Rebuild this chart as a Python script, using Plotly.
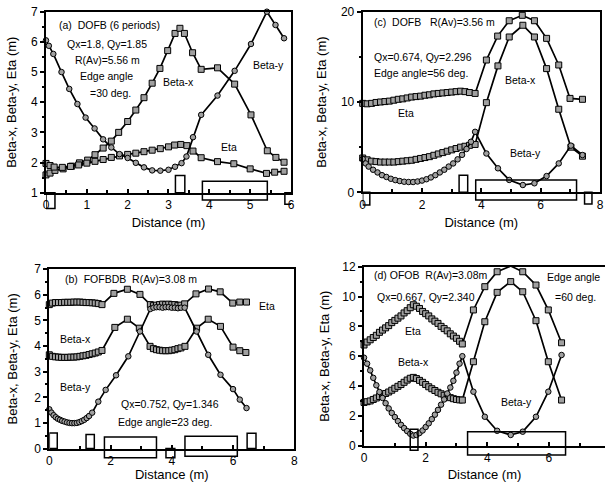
import plotly.graph_objects as go

FONT = "Liberation Sans, Arial, Helvetica, sans-serif"

# ---------------- Panel (a) DOFB (6 periods) ----------------
a_x_betax = [0, 0.1, 0.22, 0.42, 0.63, 0.82, 1.02, 1.2, 1.4, 1.6, 1.78, 2.0, 2.2, 2.4,
             2.6, 2.79, 2.98, 3.16, 3.28, 3.39, 3.59, 3.8, 4.2, 4.62, 5.02, 5.42, 5.63, 5.83]
a_betax = [1.59, 1.65, 1.74, 1.79, 1.88, 1.99, 2.08, 2.26, 2.48, 2.71, 3.0, 3.36, 3.74, 4.15,
           4.63, 5.12, 5.71, 6.28, 6.45, 6.28, 5.64, 5.09, 5.14, 4.6, 3.58, 2.39, 2.17, 2.01]
a_x_eta = [0, 0.1, 0.2, 0.4, 0.6, 0.8, 1.0, 1.2, 1.4, 1.6, 1.8, 2.0, 2.2, 2.4,
           2.6, 2.8, 3.0, 3.15, 3.3, 3.45, 3.6, 3.8, 4.2, 4.6, 5.0, 5.4, 5.6, 5.83]
a_eta = [1.97, 1.9, 1.85, 1.84, 1.87, 1.92, 1.98, 2.04, 2.1, 2.17, 2.22, 2.27, 2.31, 2.36,
         2.41, 2.46, 2.52, 2.58, 2.6, 2.56, 2.38, 2.16, 2.03, 1.96, 1.79, 1.64, 1.68, 1.71]
a_x_betay = [0, 0.07, 0.18, 0.38, 0.57, 0.77, 0.97, 1.19, 1.4, 1.6, 1.8, 2.0, 2.2, 2.4,
             2.6, 2.8, 3.0, 3.16, 3.32, 3.44, 3.6, 3.8, 4.2, 4.62, 5.02, 5.41, 5.62, 5.83]
a_betay = [6.05, 5.87, 5.6, 5.0, 4.44, 3.94, 3.49, 3.13, 2.77, 2.5, 2.28, 2.15, 1.99, 1.84,
           1.74, 1.73, 1.76, 1.86, 1.98, 2.2, 2.84, 3.58, 4.22, 5.04, 5.93, 7.0, 6.56, 6.12]
# lattice elements: start, end, bottom, top (m)
a_el_start = [0.0, 3.17, 3.83, 5.85]
a_el_end = [0.22, 3.4, 5.42, 6.06]
a_el_low = [0.48, 1.0, 0.76, 0.62]
a_el_high = [1.0, 1.57, 1.38, 1.0]

# ---------------- Panel (c) DOFB R(Av)=3.56 m ----------------
c_x_eta = [0, 0.15, 0.3, 0.45, 0.6, 0.75, 0.9, 1.05, 1.2, 1.35, 1.5, 1.65, 1.8, 1.95, 2.1,
           2.25, 2.4, 2.55, 2.7, 2.85, 3.0, 3.15, 3.3, 3.45, 3.6, 3.79,
           4.17, 4.55, 4.94, 5.38, 5.79, 6.2, 6.61, 6.99, 7.41]
c_eta = [9.85, 9.8, 9.85, 9.95, 10.0, 10.05, 10.1, 10.2, 10.3, 10.35, 10.45, 10.55, 10.6, 10.65, 10.75,
         10.8, 10.9, 10.95, 11.0, 11.05, 11.1, 11.15, 11.2, 11.15, 11.05, 10.95,
         14.65, 17.3, 19.0, 19.6, 19.0, 17.05, 14.1, 10.4, 10.3]
c_x_betax = [0, 0.15, 0.3, 0.45, 0.6, 0.75, 0.9, 1.05, 1.2, 1.35, 1.5, 1.65, 1.8, 1.95, 2.1,
             2.25, 2.4, 2.55, 2.7, 2.85, 3.0, 3.15, 3.3, 3.45, 3.6, 3.79,
             4.17, 4.56, 4.94, 5.4, 5.79, 6.2, 6.61, 7.02, 7.41]
c_betax = [3.8, 3.6, 3.45, 3.4, 3.35, 3.35, 3.35, 3.35, 3.4, 3.45, 3.5, 3.55, 3.65, 3.75, 3.85,
           3.95, 4.1, 4.25, 4.4, 4.55, 4.7, 4.85, 5.0, 5.1, 5.2, 5.3,
           9.93, 14.0, 17.2, 18.5, 17.2, 13.7, 9.2, 5.0, 4.0]
c_x_betay = [0, 0.1, 0.2, 0.35, 0.5, 0.65, 0.8, 0.95, 1.1, 1.25, 1.4, 1.55, 1.7, 1.85, 2.0,
             2.15, 2.3, 2.45, 2.6, 2.75, 2.9, 3.05, 3.2, 3.35, 3.5, 3.65, 3.79,
             4.17, 4.56, 4.94, 5.4, 5.79, 6.2, 6.61, 7.02, 7.41]
c_betay = [3.7, 3.2, 2.85, 2.5, 2.2, 1.9, 1.7, 1.5, 1.35, 1.25, 1.17, 1.14, 1.14, 1.2, 1.3,
           1.45, 1.65, 1.9, 2.2, 2.5, 2.85, 3.2, 3.65, 4.15, 4.8, 5.6, 6.7,
           4.3, 2.66, 1.37, 0.81, 1.0, 1.8, 3.2, 5.17, 4.13]
c_el_start = [0.0, 3.25, 3.81, 7.48]
c_el_end = [0.24, 3.54, 7.21, 7.73]
c_el_low = [-1.4, 0.0, -0.85, -1.3]
c_el_high = [0.0, 1.9, 1.37, 0.0]

# ---------------- Panel (b) FOFBDB R(Av)=3.08 m ----------------
b_x_eta = [0, 0.1, 0.2, 0.3, 0.4, 0.5, 0.6, 0.7, 0.8, 0.9, 1.0, 1.1, 1.2, 1.3, 1.4, 1.5, 1.6,
           1.72, 2.11, 2.55, 2.96, 3.3, 3.4, 3.5, 3.6, 3.7, 3.8, 3.9, 4.0, 4.1, 4.2, 4.3,
           4.42, 4.79, 5.2, 5.58, 5.99, 6.22, 6.44]
b_eta = [5.62, 5.68, 5.7, 5.7, 5.7, 5.71, 5.71, 5.71, 5.72, 5.72, 5.72, 5.71, 5.7, 5.7, 5.69, 5.68, 5.66,
         5.62, 6.06, 6.22, 6.02, 5.62, 5.58, 5.6, 5.62, 5.64, 5.62, 5.64, 5.62, 5.62, 5.58, 5.6,
         5.65, 6.04, 6.23, 6.12, 5.68, 5.72, 5.72]
b_x_betax = [0, 0.1, 0.2, 0.3, 0.4, 0.5, 0.6, 0.7, 0.8, 0.9, 1.0, 1.1, 1.2, 1.3, 1.4, 1.5, 1.6,
             1.72, 2.14, 2.55, 2.94, 3.29, 3.4, 3.5, 3.6, 3.7, 3.8, 3.9, 4.0, 4.1, 4.2, 4.3,
             4.43, 4.81, 5.19, 5.59, 6.0, 6.22, 6.42]
b_betax = [3.66, 3.6, 3.58, 3.57, 3.56, 3.56, 3.56, 3.57, 3.57, 3.58, 3.6, 3.62, 3.64, 3.67, 3.7, 3.73, 3.77,
           3.83, 4.73, 5.05, 4.7, 3.99, 3.9, 3.86, 3.84, 3.82, 3.82, 3.82, 3.84, 3.86, 3.9, 3.93,
           3.99, 4.7, 5.05, 4.77, 3.96, 3.82, 3.75]
b_x_betay = [0, 0.07, 0.14, 0.21, 0.28, 0.35, 0.42, 0.5, 0.58, 0.66, 0.74, 0.82, 0.9, 0.98, 1.06,
             1.14, 1.22, 1.3, 1.4, 1.6, 1.84, 2.18, 2.58, 2.96, 3.3, 3.4, 3.5, 3.6, 3.7, 3.8, 3.9,
             4.0, 4.1, 4.2, 4.3, 4.42, 4.81, 5.19, 5.59, 6.0, 6.22, 6.44]
b_betay = [1.53, 1.4, 1.3, 1.22, 1.16, 1.12, 1.08, 1.05, 1.02, 1.0, 0.99, 0.99, 1.0, 1.03, 1.07,
           1.12, 1.19, 1.27, 1.4, 1.83, 2.29, 2.86, 3.6, 4.57, 5.45, 5.5, 5.52, 5.52, 5.5, 5.52, 5.52,
           5.5, 5.5, 5.48, 5.5, 5.5, 4.57, 3.66, 2.88, 2.32, 1.91, 1.58]
b_el_start = [0.0, 1.2, 1.8, 3.81, 4.43, 6.46]
b_el_end = [0.26, 1.47, 3.5, 4.1, 6.14, 6.75]
b_el_low = [0.0, 0.0, -0.36, -0.36, -0.3, 0.0]
b_el_high = [0.61, 0.55, 0.45, 0.0, 0.48, 0.6]

# ---------------- Panel (d) OFOB R(Av)=3.08m ----------------
d_x = [0, 0.1, 0.2, 0.3, 0.4, 0.5, 0.6, 0.7, 0.8, 0.9, 1.0, 1.1, 1.2, 1.3, 1.4, 1.5, 1.6,
       1.7, 1.8, 1.9, 2.0, 2.1, 2.2, 2.3, 2.4, 2.5, 2.6, 2.7, 2.8, 2.9, 3.0, 3.1, 3.19,
       3.55, 3.92, 4.32, 4.76, 5.15, 5.58, 5.98, 6.41]
d_eta = [6.75, 6.95, 7.1, 7.25, 7.4, 7.6, 7.75, 7.9, 8.05, 8.25, 8.4, 8.55, 8.7, 8.9, 9.05, 9.25, 9.45,
         9.35, 9.2, 9.0, 8.85, 8.7, 8.5, 8.35, 8.2, 8.0, 7.85, 7.7, 7.5, 7.35, 7.2, 7.0, 6.82,
         9.1, 10.66, 11.66, 12.04, 11.66, 10.77, 9.1, 6.9]
d_betax = [2.9, 2.95, 3.0, 3.1, 3.2, 3.3, 3.4, 3.5, 3.6, 3.72, 3.85, 3.98, 4.1, 4.25, 4.4, 4.52, 4.58,
           4.5, 4.38, 4.25, 4.1, 3.95, 3.82, 3.7, 3.58, 3.48, 3.38, 3.3, 3.22, 3.15, 3.1, 3.07, 3.06,
           5.63, 8.31, 10.28, 11.0, 10.32, 8.38, 5.63, 3.06]
d_betay = [5.9, 5.5, 5.05, 4.55, 4.05, 3.6, 3.2, 2.85, 2.5, 2.2, 1.92, 1.65, 1.4, 1.18, 0.98, 0.8, 0.68,
           0.72, 0.85, 1.02, 1.25, 1.5, 1.78, 2.08, 2.4, 2.75, 3.1, 3.5, 3.9, 4.35, 4.9, 5.5, 6.0,
           3.62, 1.94, 1.0, 0.72, 0.94, 1.94, 3.62, 6.08]
d_el_start = [1.5, 3.36]
d_el_end = [1.75, 6.54]
d_el_low = [-0.3, -0.63]
d_el_high = [1.1, 0.94]

# ---------------- build figure ----------------
SQ = dict(symbol="square", size=6, color="#a0a0a0", line=dict(color="black", width=1))
CI = dict(symbol="circle", size=5.5, color="#a0a0a0", line=dict(color="black", width=1))
LINE = dict(color="black", width=1.7)

fig = go.Figure()

panels = [
    dict(ax="", series=[("Beta-x", a_x_betax, a_betax, SQ), ("Eta", a_x_eta, a_eta, SQ),
                        ("Beta-y", a_x_betay, a_betay, CI)],
         xr=[0, 6], yr=[1, 7], xd=1, xm=0.5, yd=1, ym=0.5,
         xdom=[0.0760, 0.4810], ydom=[0.6002, 0.9757],
         el=(a_el_start, a_el_end, a_el_low, a_el_high), ystand=11, xstand=7),
    dict(ax="2", series=[("Eta", c_x_eta, c_eta, SQ), ("Beta-x", c_x_betax, c_betax, SQ),
                         ("Beta-y", c_x_betay, c_betay, CI)],
         xr=[0, 8], yr=[0, 20], xd=2, xm=1, yd=10, ym=5,
         xdom=[0.5995, 0.9917], ydom=[0.6010, 0.9757],
         el=(c_el_start, c_el_end, c_el_low, c_el_high), ystand=11, xstand=7),
    dict(ax="3", series=[("Eta", b_x_eta, b_eta, SQ), ("Beta-x", b_x_betax, b_betax, SQ),
                         ("Beta-y", b_x_betay, b_betay, CI)],
         xr=[0, 8], yr=[0, 7], xd=2, xm=1, yd=1, ym=0.5,
         xdom=[0.0815, 0.4864], ydom=[0.0695, 0.4413],
         el=(b_el_start, b_el_end, b_el_low, b_el_high), ystand=14, xstand=8),
    dict(ax="4", series=[("Eta", d_x, d_eta, SQ), ("Beta-x", d_x, d_betax, SQ),
                         ("Beta-y", d_x, d_betay, CI)],
         xr=[0, 7.82], yr=[0, 12], xd=2, xm=1, yd=2, ym=1,
         xdom=[0.6017, 1.0], ydom=[0.0753, 0.4467],
         el=(d_el_start, d_el_end, d_el_low, d_el_high), ystand=10, xstand=6),
]

for p in panels:
    xa = "x" + p["ax"]
    ya = "y" + p["ax"]
    for name, xs, ys, mk in p["series"]:
        fig.add_trace(go.Scatter(x=xs, y=ys, mode="lines+markers", name=name,
                                 line=LINE, marker=mk, cliponaxis=False,
                                 xaxis=xa, yaxis=ya, showlegend=False))
    y0, y1 = p["yr"]
    s, e, lo, hi = p["el"]
    for i in range(len(s)):
        fig.add_shape(type="rect", xref=xa, yref=ya + " domain",
                      x0=s[i], x1=e[i],
                      y0=(lo[i] - y0) / (y1 - y0), y1=(hi[i] - y0) / (y1 - y0),
                      line=dict(color="black", width=1.5), fillcolor="rgba(0,0,0,0)")
    mirror_y = p["ax"] != "4"
    fig.update_layout(**{
        "xaxis" + p["ax"]: dict(
            domain=p["xdom"], range=p["xr"], anchor=ya, dtick=p["xd"], tick0=0,
            automargin=False,
            showline=True, linecolor="black", linewidth=2, mirror=True,
            ticks="inside", ticklen=4, tickwidth=1.5, tickcolor="black",
            minor=dict(dtick=p["xm"], ticks="inside", ticklen=3, tickcolor="black"),
            showgrid=False, zeroline=False, tickfont=dict(size=12, family=FONT),
            title=dict(text="Distance (m)", font=dict(size=13, family=FONT), standoff=p["xstand"])),
        "yaxis" + p["ax"]: dict(
            domain=p["ydom"], range=p["yr"], anchor=xa, dtick=p["yd"], tick0=0,
            automargin=False,
            showline=True, linecolor="black", linewidth=2, mirror=mirror_y,
            ticks="outside", ticklen=4, tickwidth=1.5, tickcolor="black",
            minor=dict(dtick=p["ym"], ticks="outside", ticklen=2, tickcolor="black"),
            showgrid=False, zeroline=False, tickfont=dict(size=12, family=FONT),
            title=dict(text="Beta-x, Beta-y, Eta (m)", font=dict(size=13, family=FONT),
                       standoff=p["ystand"])),
    })

# ---------------- text labels ----------------
notes = [
    ("x", "y", 0.26, 6.56, "(a)  DOFB (6 periods)", "left"),
    ("x", "y", 1.5, 5.92, "Qx=1.8, Qy=1.85", "center"),
    ("x", "y", 1.5, 5.4, "R(Av)=5.56 m", "center"),
    ("x", "y", 1.47, 4.87, "Edge angle", "center"),
    ("x", "y", 1.58, 4.32, "=30 deg.", "center"),
    ("x", "y", 3.24, 4.68, "Beta-x", "center"),
    ("x", "y", 5.45, 5.23, "Beta-y", "center"),
    ("x", "y", 4.48, 2.53, "Eta", "center"),
    ("x2", "y2", 0.33, 18.9, "(c)  DOFB   R(Av)=3.56 m", "left"),
    ("x2", "y2", 0.33, 14.95, "Qx=0.674, Qy=2.296", "left"),
    ("x2", "y2", 0.33, 13.18, "Edge angle=56 deg.", "left"),
    ("x2", "y2", 5.33, 12.44, "Beta-x", "center"),
    ("x2", "y2", 1.45, 8.78, "Eta", "center"),
    ("x2", "y2", 5.49, 4.39, "Beta-y", "center"),
    ("x3", "y3", 0.46, 6.62, "(b)  FOFBDB  R(Av)=3.08 m", "left"),
    ("x3", "y3", 7.11, 5.55, "Eta", "center"),
    ("x3", "y3", 0.84, 4.27, "Beta-x", "center"),
    ("x3", "y3", 0.84, 2.42, "Beta-y", "center"),
    ("x3", "y3", 3.95, 1.73, "Qx=0.752, Qy=1.346", "center"),
    ("x3", "y3", 3.78, 1.05, "Edge angle=23 deg.", "center"),
    ("x4", "y4", 0.25, 11.44, "(d) OFOB  R(Av)=3.08m", "left"),
    ("x4", "y4", 0.36, 9.99, "Qx=0.667, Qy=2.340", "left"),
    ("x4", "y4", 6.79, 11.29, "Edge angle", "center"),
    ("x4", "y4", 6.85, 9.99, "=60 deg.", "center"),
    ("x4", "y4", 1.59, 7.71, "Eta", "center"),
    ("x4", "y4", 1.62, 5.63, "Beta-x", "center"),
    ("x4", "y4", 4.94, 2.95, "Beta-y", "center"),
]
for xr, yr, x, y, t, al in notes:
    fig.add_annotation(xref=xr, yref=yr, x=x, y=y, text=t, showarrow=False,
                       xanchor=al, yanchor="middle",
                       font=dict(size=10.5, family=FONT, color="black"))

fig.update_layout(width=605, height=482, autosize=False,
                  margin=dict(l=0, r=0, t=0, b=0, pad=0, autoexpand=False),
                  paper_bgcolor="white", plot_bgcolor="white", showlegend=False,
                  font=dict(family=FONT, size=12, color="black"))

fig.write_html("out.html", config={"displayModeBar": False},
               post_script="document.body.style.margin='0';document.body.style.overflow='hidden';")
